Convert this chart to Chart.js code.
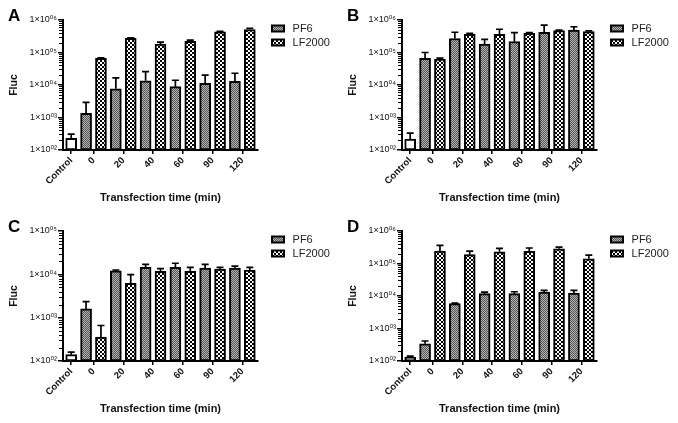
<!DOCTYPE html>
<html>
<head>
<meta charset="utf-8">
<script src="https://cdn.jsdelivr.net/npm/chart.js@4"></script>
<style>
  body { margin: 0; background: #fff; width: 678px; height: 423px; position: relative; overflow: hidden; }
  canvas { position: absolute; }
</style>
</head>
<body>
<canvas id="panelA" width="339" height="211" style="left:0;top:0"></canvas>
<canvas id="panelB" width="339" height="211" style="left:339px;top:0"></canvas>
<canvas id="panelC" width="339" height="211" style="left:0;top:211px"></canvas>
<canvas id="panelD" width="339" height="211" style="left:339px;top:211px"></canvas>
<script>
const controlLabel = 'Control';
const timeLabels   = ['0', '20', '40', '60', '90', '120'];
const seriesNames  = ['PF6', 'LF2000'];

const yTicksTo6 = [1e2, 1e3, 1e4, 1e5, 1e6];
const yTicksTo5 = [1e2, 1e3, 1e4, 1e5];

// panel A
const ctrlA    = [230];
const ctrlErrA = [80];
const pf6A     = [1350, 7600, 13500, 8900, 11200, 13000];
const pf6ErrA  = [1550, 9000, 12200, 5100, 8800, 10000];
const lfA      = [66000, 275000, 182000, 220000, 430000, 510000];
const lfErrA   = [3000, 8000, 28000, 20000, 20000, 40000];

// panel B
const ctrlB    = [215];
const ctrlErrB = [115];
const pf6B     = [66000, 270000, 180000, 215000, 420000, 490000];
const pf6ErrB  = [34000, 150000, 75000, 195000, 280000, 130000];
const lfB      = [63000, 360000, 360000, 390000, 470000, 440000];
const lfErrB   = [4000, 30000, 160000, 20000, 20000, 20000];

// panel C
const ctrlC    = [140];
const ctrlErrC = [21];
const pf6C     = [1590, 12000, 14500, 14500, 13900, 13900];
const pf6ErrC  = [760, 600, 2500, 3500, 3100, 1600];
const lfC      = [355, 6200, 11700, 11700, 13200, 12500];
const lfErrC   = [305, 3600, 1900, 2700, 1200, 1900];

// panel D
const ctrlD    = [133];
const ctrlErrD = [9];
const pf6D     = [340, 5800, 11800, 11800, 13300, 12400];
const pf6ErrD  = [72, 200, 1400, 1700, 1700, 2400];
const lfD      = [240000, 187000, 230000, 235000, 285000, 140000];
const lfErrD   = [120000, 53000, 60000, 65000, 35000, 40000];

const FONT = "'Liberation Sans', Arial, 'DejaVu Sans', sans-serif";
const supDigits = ['⁰','¹','²','³','⁴','⁵','⁶','⁷','⁸','⁹'];

function makePattern(size, draw) {
  const c = document.createElement('canvas');
  c.width = size; c.height = size;
  draw(c.getContext('2d'));
  return c.getContext('2d').createPattern(c, 'repeat');
}

const pf6Fill = makePattern(2, g => {
  g.fillStyle = '#b4b4b4'; g.fillRect(0, 0, 2, 2);
  g.fillStyle = '#555';    g.fillRect(0, 0, 1, 1); g.fillRect(1, 1, 1, 1);
});
const lfFill = makePattern(4, g => {
  g.fillStyle = '#fff'; g.fillRect(0, 0, 4, 4);
  g.fillStyle = '#000'; g.fillRect(0, 0, 2, 2); g.fillRect(2, 2, 2, 2);
});

const errorBars = {
  id: 'errorBars',
  afterDatasetsDraw(chart) {
    const ctx = chart.ctx;
    const y = chart.scales.y;
    ctx.save();
    ctx.strokeStyle = '#000';
    ctx.lineWidth = 1.7;
    chart.data.datasets.forEach((ds, di) => {
      chart.getDatasetMeta(di).data.forEach((bar, i) => {
        const top = y.getPixelForValue(ds.data[i].y + ds.errors[i]);
        ctx.beginPath();
        ctx.moveTo(bar.x, bar.y);
        ctx.lineTo(bar.x, top);
        ctx.moveTo(bar.x - 3.5, top);
        ctx.lineTo(bar.x + 3.5, top);
        ctx.stroke();
      });
    });
    ctx.restore();
  }
};

const minorTicks = {
  id: 'minorTicks',
  afterDraw(chart) {
    const ctx = chart.ctx;
    const y = chart.scales.y;
    const x0 = chart.chartArea.left;
    ctx.save();
    ctx.strokeStyle = '#000';
    ctx.lineWidth = 1;
    for (let d = y.min; d < y.max; d *= 10) {
      for (let m = 2; m <= 9; m++) {
        const py = Math.round(y.getPixelForValue(m * d)) + 0.5;
        ctx.beginPath();
        ctx.moveTo(x0 - 4, py);
        ctx.lineTo(x0, py);
        ctx.stroke();
      }
    }
    ctx.restore();
  }
};

const panelLetter = {
  id: 'panelLetter',
  afterDraw(chart, args, opts) {
    const ctx = chart.ctx;
    ctx.save();
    ctx.font = 'bold 17px ' + FONT;
    ctx.fillStyle = '#000';
    ctx.fillText(opts.text, 8, 21);
    ctx.restore();
  }
};

function makePanel(id, letter, ctrl, ctrlErr, pf6, pf6Err, lf, lfErr, yTicks) {
  const allLabels = [controlLabel, ...timeLabels];
  const tickPos = [0, ...timeLabels.map((_, i) => 2 * i + 1.5)];

  new Chart(document.getElementById(id), {
    type: 'bar',
    data: {
      datasets: [
        {
          label: controlLabel,
          data: ctrl.map(v => ({ x: 0, y: v })),
          errors: ctrlErr,
          backgroundColor: '#fff'
        },
        {
          label: seriesNames[0],
          data: pf6.map((v, i) => ({ x: 2 * i + 1, y: v })),
          errors: pf6Err,
          backgroundColor: pf6Fill
        },
        {
          label: seriesNames[1],
          data: lf.map((v, i) => ({ x: 2 * i + 2, y: v })),
          errors: lfErr,
          backgroundColor: lfFill
        }
      ]
    },
    options: {
      responsive: false,
      animation: false,
      layout: { padding: { left: 8, top: 20, right: 0, bottom: 0 } },
      datasets: {
        bar: { grouped: false, barThickness: 11, borderSkipped: false, borderColor: '#000', borderWidth: 2 }
      },
      scales: {
        x: {
          type: 'linear',
          offset: false,
          min: -0.55,
          max: 12.55,
          afterBuildTicks: s => { s.ticks = tickPos.map(v => ({ value: v })); },
          afterFit: s => { s.height = 61; },
          ticks: {
            autoSkip: false,
            minRotation: 45,
            maxRotation: 45,
            padding: 1,
            color: '#111',
            font: { family: FONT, size: 9.5, weight: 'bold' },
            callback: (v, i) => allLabels[i]
          },
          grid: { offset: false, drawOnChartArea: false, tickLength: 4, color: '#000', lineWidth: 1.5 },
          border: { color: '#000', width: 2 },
          title: {
            display: true,
            text: 'Transfection time (min)',
            color: '#111',
            font: { family: FONT, size: 11, weight: 'bold' },
            padding: { top: 2, bottom: 6 }
          }
        },
        y: {
          type: 'logarithmic',
          min: yTicks[0],
          max: yTicks[yTicks.length - 1],
          afterBuildTicks: s => { s.ticks = yTicks.map(v => ({ value: v })); },
          afterFit: s => { s.width = 55; },
          ticks: {
            padding: 1,
            color: '#111',
            font: { family: FONT, size: 9 },
            callback: v => '1×10⁰' + supDigits[Math.round(Math.log10(v))]
          },
          grid: { drawOnChartArea: false, tickLength: 5, color: '#000', lineWidth: 1.5 },
          border: { color: '#000', width: 2 },
          title: {
            display: true,
            text: 'Fluc',
            color: '#111',
            font: { family: FONT, size: 10.5, weight: 'bold' },
            padding: 0
          }
        },
        // empty spacer between the plot and the legend
        gap: {
          axis: 'y',
          position: 'right',
          display: true,
          afterFit: s => { s.width = 11; },
          ticks: { display: false },
          grid: { display: false },
          border: { display: false }
        }
      },
      plugins: {
        legend: {
          position: 'right',
          align: 'start',
          maxWidth: 70,
          labels: {
            filter: item => item.datasetIndex > 0,
            generateLabels: chart => Chart.defaults.plugins.legend.labels.generateLabels(chart)
              .map(item => Object.assign(item, { text: ' ' + item.text })),
            boxWidth: 12,
            boxHeight: 6,
            padding: 3,
            color: '#222',
            font: { family: FONT, size: 11 }
          }
        },
        tooltip: { enabled: false },
        panelLetter: { text: letter }
      }
    },
    plugins: [errorBars, minorTicks, panelLetter]
  });
}

makePanel('panelA', 'A', ctrlA, ctrlErrA, pf6A, pf6ErrA, lfA, lfErrA, yTicksTo6);
makePanel('panelB', 'B', ctrlB, ctrlErrB, pf6B, pf6ErrB, lfB, lfErrB, yTicksTo6);
makePanel('panelC', 'C', ctrlC, ctrlErrC, pf6C, pf6ErrC, lfC, lfErrC, yTicksTo5);
makePanel('panelD', 'D', ctrlD, ctrlErrD, pf6D, pf6ErrD, lfD, lfErrD, yTicksTo6);
</script>
</body>
</html>
